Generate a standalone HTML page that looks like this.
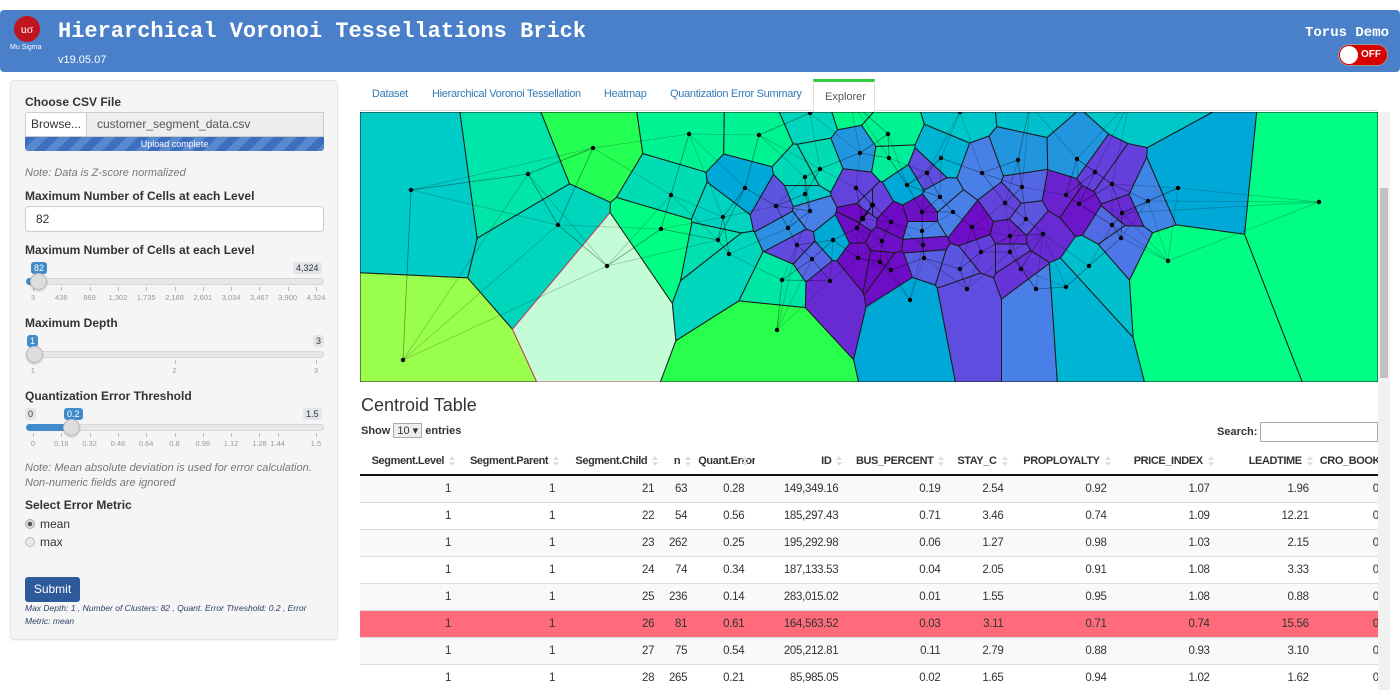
<!DOCTYPE html>
<html><head><meta charset="utf-8">
<style>
*{box-sizing:border-box}
body{margin:0;width:1400px;height:699px;overflow:hidden;background:#fff;font-family:"Liberation Sans",Arial,sans-serif;color:#333;position:relative}
.abs{position:absolute}
#header{left:0;top:10px;width:1400px;height:62px;background:#4a7fca;border-radius:4px}
.mono{font-family:"Liberation Mono","Courier New",monospace;font-weight:bold;color:#fff}
#panel{left:10px;top:80px;width:328px;height:560px;background:#f5f5f5;border:1px solid #e3e3e3;border-radius:4px;box-shadow:0 1px 1px rgba(0,0,0,.05)}
.lbl{font-size:12px;font-weight:bold;color:#333}
.note{font-size:11px;font-style:italic;color:#777}
.bub{font-size:9px;padding:1px 3px;border-radius:3px;line-height:10px}
.tl{font-size:7.5px;color:#999;transform:translateX(-50%)}
.tab{font-size:11px;letter-spacing:-0.3px;color:#337ab7;top:88px}
table{border-collapse:collapse;table-layout:fixed;font-size:11.5px;letter-spacing:-0.3px}
td,th{text-align:right;padding:0 11px 0 0;white-space:nowrap;overflow:hidden}
th{height:28px;font-weight:bold;font-size:11px;letter-spacing:-0.4px;border-bottom:2px solid #111;padding-right:18px;position:relative}
th:after{content:"";position:absolute;right:7px;top:9px;border-left:3px solid transparent;border-right:3px solid transparent;border-bottom:4px solid #ddd}
th:before{content:"";position:absolute;right:7px;top:15px;border-left:3px solid transparent;border-right:3px solid transparent;border-top:4px solid #ddd}
td{height:27px;border-top:1px solid #ddd}
tr.odd td{background:#f9f9f9}
tr.sel td{background:#ff6b7a}
</style></head><body>
<div id="header" class="abs">
  <div class="abs" style="left:14px;top:6px;width:26px;height:26px;border-radius:50%;background:#c0141e;color:#fff;font-size:12px;text-align:center;line-height:26px;font-family:'Liberation Serif',serif">uσ</div>
  <div class="abs" style="left:10px;top:34px;font-size:7px;color:#fff">Mu Sigma</div>
  <div class="abs mono" style="left:58px;top:9px;font-size:22px">Hierarchical Voronoi Tessellations Brick</div>
  <div class="abs" style="left:58px;top:44px;font-size:11px;color:#fff">v19.05.07</div>
  <div class="abs mono" style="left:1305px;top:15px;font-size:14px">Torus Demo</div>
  <div class="abs" style="left:1338px;top:34px;width:50px;height:22px;border-radius:11px;background:#d90000;border:1px solid #999">
    <div class="abs" style="left:1px;top:1px;width:18px;height:18px;border-radius:50%;background:#fff"></div>
    <div class="abs" style="left:22px;top:4px;font-size:10px;font-weight:bold;color:#fff">OFF</div>
  </div>
</div>

<div id="panel" class="abs">
  <div class="abs lbl" style="left:14px;top:14px">Choose CSV File</div>
  <div class="abs" style="left:14px;top:31px;width:62px;height:25px;background:#fff;border:1px solid #ccc;border-radius:3px 0 0 0;font-size:12px;line-height:23px;text-align:center">Browse...</div>
  <div class="abs" style="left:75px;top:31px;width:238px;height:25px;background:#eee;border:1px solid #ccc;font-size:12px;line-height:23px;padding-left:10px;color:#555">customer_segment_data.csv</div>
  <div class="abs" style="left:14px;top:56px;width:299px;height:14px;border-radius:0 0 3px 3px;background:repeating-linear-gradient(135deg,#3d6fbf 0 8px,#5a88cc 8px 16px);color:#fff;font-size:9px;text-align:center;line-height:14px">Upload complete</div>
  <div class="abs note" style="left:14px;top:86px">Note: Data is Z-score normalized</div>
  <div class="abs lbl" style="left:14px;top:108px">Maximum Number of Cells at each Level</div>
  <div class="abs" style="left:14px;top:125px;width:299px;height:26px;background:#fff;border:1px solid #ccc;border-radius:4px;font-size:12px;line-height:24px;padding-left:10px">82</div>
  <div class="abs lbl" style="left:14px;top:162px">Maximum Number of Cells at each Level</div>
  <div class="abs lbl" style="left:14px;top:235px">Maximum Depth</div>
  <div class="abs lbl" style="left:14px;top:308px">Quantization Error Threshold</div>
  <div class="abs note" style="left:14px;top:380px;width:300px;line-height:15px">Note: Mean absolute deviation is used for error calculation. Non-numeric fields are ignored</div>
  <div class="abs lbl" style="left:14px;top:417px">Select Error Metric</div>
  <div class="abs" style="left:14px;top:436px;font-size:12px"><span style="display:inline-block;width:10px;height:10px;border-radius:50%;border:1px solid #aaa;background:radial-gradient(#555 0 2px,#ddd 2.5px);vertical-align:-1px;margin-right:5px"></span>mean</div>
  <div class="abs" style="left:14px;top:454px;font-size:12px"><span style="display:inline-block;width:10px;height:10px;border-radius:50%;border:1px solid #bbb;background:#e8e8e8;vertical-align:-1px;margin-right:5px"></span>max</div>
  <div class="abs" style="left:14px;top:496px;width:55px;height:25px;background:#2e5a9c;border-radius:3px;color:#fff;font-size:12px;text-align:center;line-height:25px">Submit</div>
  <div class="abs" style="left:14px;top:521px;width:300px;font-size:8.5px;font-style:italic;color:#2b3f66;line-height:13px">Max Depth: 1 , Number of Clusters: 82 , Quant. Error Threshold: 0.2 , Error Metric: mean</div>
</div>

<div class="abs tab" style="left:372px">Dataset</div>
<div class="abs tab" style="left:432px">Hierarchical Voronoi Tessellation</div>
<div class="abs tab" style="left:604px">Heatmap</div>
<div class="abs tab" style="left:670px">Quantization Error Summary</div>
<div class="abs" style="left:360px;top:110px;width:1018px;height:1px;background:#ddd"></div>
<div class="abs" style="left:813px;top:79px;width:62px;height:33px;background:#fff;border:1px solid #ddd;border-top:3px solid #2ecc40;border-bottom:none;font-size:11px;color:#555;padding:9px 0 0 11px">Explorer</div>

<svg id="map" class="abs" style="left:360px;top:112px" width="1018" height="270"></svg>
<div class="abs" style="left:1378px;top:112px;width:12px;height:578px;background:#f1f1f1"><div style="position:absolute;left:2px;top:76px;width:8px;height:190px;background:#c1c1c1"></div></div>

<div class="abs" style="left:361px;top:395px;font-size:18px;color:#333">Centroid Table</div>
<div class="abs" style="left:361px;top:423px;font-size:11px;font-weight:bold">Show <span style="display:inline-block;border:1px solid #aaa;background:#eee;padding:0 3px;font-weight:normal">10 ▾</span> entries</div>
<div class="abs" style="left:1217px;top:426px;font-size:11px;font-weight:bold">Search:</div>
<div class="abs" style="left:1260px;top:422px;width:118px;height:20px;border:1px solid #aaa;background:#fff"></div>

<div class="abs" style="left:360px;top:447px;width:1018px;height:243px;overflow:hidden">
<table id="tbl" style="width:1120px"></table>
</div>

<script>
// ---- slider data ----
const cellTicks=["3","436","869","1,302","1,735","2,168","2,601","3,034","3,467","3,900","4,324"];
const depthTicks=["1","2","3"];
const qeTicks=["0","0.16","0.32","0.48","0.64","0.8","0.96","1.12","1.28","1.44","1.5"];
function slider(top,ticks,val,minL,maxL,handleX,name,minShow){
  const p=document.getElementById('panel');
  const w=document.createElement('div');w.className='abs';w.style.left='0';w.style.top=top+'px';
  
  
  let h='<div class="abs" style="left:15px;top:16px;width:298px;height:7px;border-radius:4px;background:#e7e7e7;border:1px solid #d8d8d8"></div>';
  h+='<div class="abs" style="left:15px;top:16px;width:'+(handleX-15)+'px;height:7px;border-radius:4px;background:#428bca"></div>';
  if(minShow)h+='<div class="abs bub" style="left:14px;top:0;background:#e1e4e9;color:#333">'+minL+'</div>';
  h+='<div class="abs bub" style="left:'+(handleX-7)+'px;top:0;background:#428bca;color:#fff">'+val+'</div>';
  h+='<div class="abs bub" style="top:0;background:#e1e4e9;color:#333;left:'+(313-maxL.length*5-6)+'px">'+maxL+'</div>';
  const n=ticks.length;
  ticks.forEach((t,i)=>{
    const x=22+(i/(n-1))*(ticks===qeTicks&&i==n-2?283*0.96:283);
    h+='<div class="abs" style="left:'+x+'px;top:25px;width:1px;height:4px;background:#bbb"></div>';
    h+='<div class="abs tl" style="left:'+x+'px;top:31px">'+t+'</div>';
  });
  h+='<div class="abs" style="left:'+(handleX-8)+'px;top:11px;width:17px;height:17px;border-radius:50%;background:#ddd;border:1px solid #bbb;box-shadow:0 1px 2px rgba(0,0,0,.2)"></div>';
  w.innerHTML=h;p.appendChild(w);
}
slider(181,cellTicks,"82","3","4,324",27,'max-cells-slider',false);
slider(254,depthTicks,"1","1","3",23,'max-depth-slider',false);
slider(327,qeTicks,"0.2","0","1.5",60,'qe-threshold-slider',true);

// ---- voronoi data ----
const px=[411,403,528,593,558,607,661,671,689,759,745,723,718,729,782,777,810,805,820,805,860,856,776,810,788,862,873,857,833,797,812,858,830,888,889,941,927,907,940,872,863,891,922,953,922,923,882,924,880,891,910,982,1018,1077,1022,1005,1026,972,1010,1043,981,1010,960,1021,967,1036,1066,1089,1095,1066,1079,1112,1122,1112,1121,1148,1178,1168,1319,1130,1030,960,850];
const py=[190,360,174,148,225,266,229,195,134,135,188,217,240,254,280,330,113,177,169,194,153,188,206,211,228,218,205,228,240,245,259,258,281,134,158,158,173,185,197,205,219,222,212,212,231,245,241,258,262,270,300,173,160,159,187,203,219,227,236,234,252,252,269,269,289,289,287,266,172,195,204,184,213,225,238,201,188,261,202,100,105,112,100];
const pv=[0.6,1.0,0.74,0.92,0.66,0.78,0.84,0.7,0.8,0.8,0.45,0.64,0.72,0.66,0.75,0.93,0.66,0.68,0.7,0.58,0.38,0.16,0.2,0.3,0.36,0.02,0.15,0.03,0.46,0.17,0.24,0.03,0.1,0.8,0.78,0.5,0.18,0.45,0.32,0.18,0.14,0.02,0.04,0.3,0.3,0.05,0.04,0.22,0.02,0.03,0.45,0.3,0.38,0.38,0.24,0.16,0.2,0.03,0.08,0.1,0.15,0.15,0.2,0.12,0.18,0.3,0.5,0.55,0.15,0.08,0.05,0.15,0.1,0.25,0.28,0.32,0.45,0.84,0.84,0.58,0.55,0.58,0.82];
const selectedCell=5;
const X0=360,Y0=112,W=1018,H=270;
const stops=[[0,[112,0,192]],[0.15,[100,64,220]],[0.3,[72,128,232]],[0.45,[0,168,216]],[0.6,[0,204,200]],[0.72,[0,224,176]],[0.85,[0,255,128]],[0.93,[40,255,76]],[1,[153,255,76]]];
function cmap(v){for(let i=1;i<stops.length;i++){if(v<=stops[i][0]){const a=stops[i-1],b=stops[i],t=(v-a[0])/(b[0]-a[0]);return 'rgb('+a[1].map((c,k)=>Math.round(c+(b[1][k]-c)*t)).join(',')+')';}}return 'rgb(153,255,76)';}
const sx=x=>x-X0, sy=y=>y-Y0;
function clip(poly,ax,ay,bx,by){
  const nx=bx-ax,ny=by-ay,mx=(ax+bx)/2,my=(ay+by)/2;
  const f=p=>(p[0]-mx)*nx+(p[1]-my)*ny;
  const out=[];
  for(let i=0;i<poly.length;i++){
    const p=poly[i],q=poly[(i+1)%poly.length],fp=f(p),fq=f(q);
    if(fp<=0)out.push(p);
    if((fp<0&&fq>0)||(fp>0&&fq<0)){const t=fp/(fp-fq);out.push([p[0]+(q[0]-p[0])*t,p[1]+(q[1]-p[1])*t]);}
  }
  return out;
}
const svg=document.getElementById('map');
let cells='',lines='',dots='';
for(let i=0;i<px.length;i++){
  let poly=[[0,0],[W,0],[W,H],[0,H]];
  for(let j=0;j<px.length&&poly.length;j++){if(j!==i)poly=clip(poly,sx(px[i]),sy(py[i]),sx(px[j]),sy(py[j]));}
  if(poly.length<3)continue;
  const fill=i===selectedCell?'#c4fcd8':cmap(pv[i]);
  const st=i===selectedCell?'#d04060':'#1a1a1a';
  cells+='<polygon points="'+poly.map(p=>p[0].toFixed(1)+','+p[1].toFixed(1)).join(' ')+'" fill="'+fill+'" stroke="'+st+'" stroke-width="1"/>';
}
for(let i=0;i<px.length;i++){
  const d=px.map((x,j)=>[Math.hypot(x-px[i],py[j]-py[i]),j]).filter(a=>a[1]!==i).sort((a,b)=>a[0]-b[0]).slice(0,4);
  d.forEach(a=>{const j=a[1];lines+='<line x1="'+sx(px[i])+'" y1="'+sy(py[i])+'" x2="'+sx(px[j])+'" y2="'+sy(py[j])+'" stroke="rgba(0,0,0,0.22)" stroke-width="0.8"/>';});
  if(py[i]>=Y0)dots+='<circle cx="'+sx(px[i])+'" cy="'+sy(py[i])+'" r="2.2" fill="#000"/>';
}
svg.innerHTML=cells+lines+dots;

// ---- table data ----
const headers=["Segment.Level","Segment.Parent","Segment.Child","n","Quant.Error","ID","BUS_PERCENT","STAY_C","PROPLOYALTY","PRICE_INDEX","LEADTIME","CRO_BOOK_PC"];
const colW=[102,104,99,33,57,94,102,63,103,103,99,160];
const childIds=["21","22","23","24","25","26","27","28"];
const nVals=["63","54","262","74","236","81","75","265"];
const qeVals=["0.28","0.56","0.25","0.34","0.14","0.61","0.54","0.21"];
const idVals=["149,349.16","185,297.43","195,292.98","187,133.53","283,015.02","164,563.52","205,212.81","85,985.05"];
const busVals=["0.19","0.71","0.06","0.04","0.01","0.03","0.11","0.02"];
const stayVals=["2.54","3.46","1.27","2.05","1.55","3.11","2.79","1.65"];
const propVals=["0.92","0.74","0.98","0.91","0.95","0.71","0.88","0.94"];
const priceVals=["1.07","1.09","1.03","1.08","1.08","0.74","0.93","1.02"];
const leadVals=["1.96","12.21","2.15","3.33","0.88","15.56","3.10","1.62"];
const selectedRow=5;
const tbl=document.getElementById('tbl');
let th='<colgroup>'+colW.map(w=>'<col style="width:'+w+'px">').join('')+'</colgroup><tr>'+headers.map((h,k)=>'<th'+(k===11?' style="text-align:left;padding-left:0"':'')+'>'+h+'</th>').join('')+'</tr>';
childIds.forEach((c,i)=>{
  const vals=["1","1",c,nVals[i],qeVals[i],idVals[i],busVals[i],stayVals[i],propVals[i],priceVals[i],leadVals[i],"0"];
  const cls=i===selectedRow?'sel':(i%2===0?'odd':'');
  th+='<tr class="'+cls+'" data-row="'+i+'">'+vals.map((v,k)=>'<td'+(k===11?' style="text-align:left;padding-left:53px"':'')+'>'+v+'</td>').join('')+'</tr>';
});
tbl.innerHTML=th;
tbl.querySelectorAll('tr[data-row]').forEach(r=>{
  
  
});
</script>
</body></html>
